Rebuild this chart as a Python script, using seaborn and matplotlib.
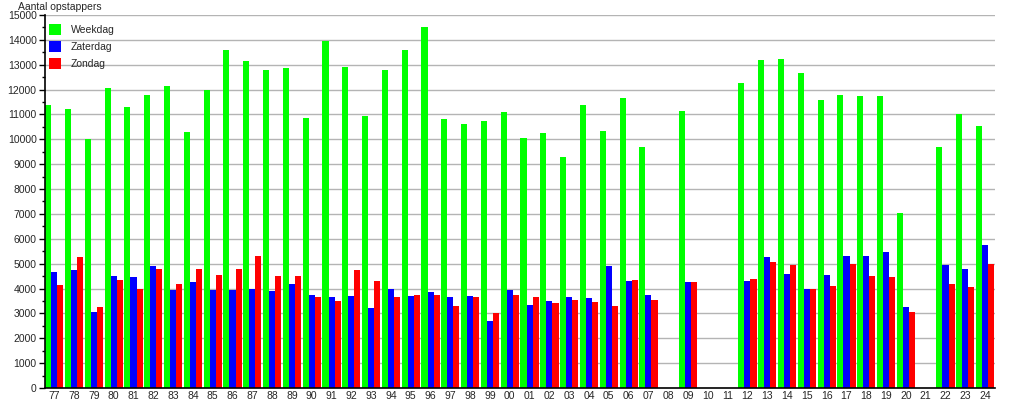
# Aantal opstappers per jaar: weekdag / zaterdag / zondag
import numpy as np
import pandas as pd
import matplotlib
matplotlib.use("Agg")
import matplotlib.pyplot as plt
from matplotlib.ticker import MultipleLocator
import seaborn as sns

# ----------------------------
# Data
# ----------------------------
jaren = ['77', '78', '79', '80', '81', '82', '83', '84', '85', '86', '87', '88',
         '89', '90', '91', '92', '93', '94', '95', '96', '97', '98', '99', '00',
         '01', '02', '03', '04', '05', '06', '07', '08', '09', '10', '11', '12',
         '13', '14', '15', '16', '17', '18', '19', '20', '21', '22', '23', '24']

# None = geen telling dat jaar
weekdag = [11400, 11200, 10000, 12050, 11300, 11800, 12150, 10300, 12000, 13600, 13150, 12800,
           12850, 10850, 13950, 12900, 10950, 12800, 13600, 14500, 10800, 10600, 10750, 11100,
           10050, 10250, 9300, 11400, 10350, 11650, 9700, None, 11150, None, None, 12250,
           13200, 13250, 12650, 11600, 11800, 11750, 11750, 7050, None, 9700, 11000, 10550]

zaterdag = [4650, 4750, 3050, 4500, 4450, 4900, 3950, 4250, 3950, 3950, 4000, 3900,
            4200, 3750, 3650, 3700, 3200, 4000, 3700, 3850, 3650, 3700, 2700, 3950,
            3350, 3500, 3650, 3600, 4900, 4300, 3750, None, 4250, None, None, 4300,
            5250, 4600, 4000, 4550, 5300, 5300, 5450, 3250, None, 4950, 4800, 5750]

zondag = [4150, 5250, 3250, 4350, 4000, 4800, 4200, 4800, 4550, 4800, 5300, 4500,
          4500, 3650, 3500, 4750, 4300, 3650, 3750, 3750, 3300, 3650, 3000, 3750,
          3650, 3400, 3550, 3450, 3300, 4350, 3550, None, 4250, None, None, 4400,
          5050, 4950, 4000, 4100, 5000, 4500, 4450, 3050, None, 4200, 4050, 5000]

series = ['Weekdag', 'Zaterdag', 'Zondag']
kleuren = ['#00ff00', '#0000ff', '#ff0000']

rows = []
for naam, waarden in zip(series, [weekdag, zaterdag, zondag]):
    for jaar, w in zip(jaren, waarden):
        if w is not None:
            rows.append({'jaar': jaar, 'dag': naam, 'opstappers': w})
df = pd.DataFrame(rows)

# ----------------------------
# Plot
# ----------------------------
sns.set_style("white")
plt.rcParams['font.family'] = ['Liberation Sans', 'DejaVu Sans']

fig = plt.figure(figsize=(10.15, 4.0), dpi=100)
ax = fig.add_axes([0.0443, 0.03, 0.936, 0.9325])

sns.barplot(data=df, x='jaar', y='opstappers', hue='dag', order=jaren,
            hue_order=series, palette=kleuren, width=0.92, errorbar=None,
            saturation=1, linewidth=0, ax=ax)

ax.set_xlim(-0.47, len(jaren) - 0.5)
ax.set_ylim(0, 15000)
ax.yaxis.set_major_locator(MultipleLocator(1000))
ax.yaxis.set_minor_locator(MultipleLocator(500))
ax.grid(axis='y', which='major', color='#b4b4b4', linewidth=1)
ax.set_axisbelow(True)

for side in ['top', 'right']:
    ax.spines[side].set_visible(False)
for side in ['left', 'bottom']:
    ax.spines[side].set_color('black')
    ax.spines[side].set_linewidth(1.2)

ax.tick_params(axis='y', which='major', length=4, width=1, color='black',
               labelsize=7.5, pad=2, left=True)
ax.tick_params(axis='y', which='minor', length=2.5, width=1, color='black', left=True)
ax.tick_params(axis='x', length=0, labelsize=7.5, pad=2)
ax.set_xlabel('')
ax.set_ylabel('')

fig.text(0.018, 0.983, 'Aantal opstappers', fontsize=7.5, ha='left', va='center')

leg = ax.legend(loc='upper left', bbox_to_anchor=(0.0, 0.985), frameon=False,
                fontsize=7.5, handlelength=1.2, handleheight=1.2,
                handletextpad=0.9, labelspacing=0.6, borderaxespad=0.15,
                borderpad=0.2)

fig.savefig('out.png', dpi=100)
